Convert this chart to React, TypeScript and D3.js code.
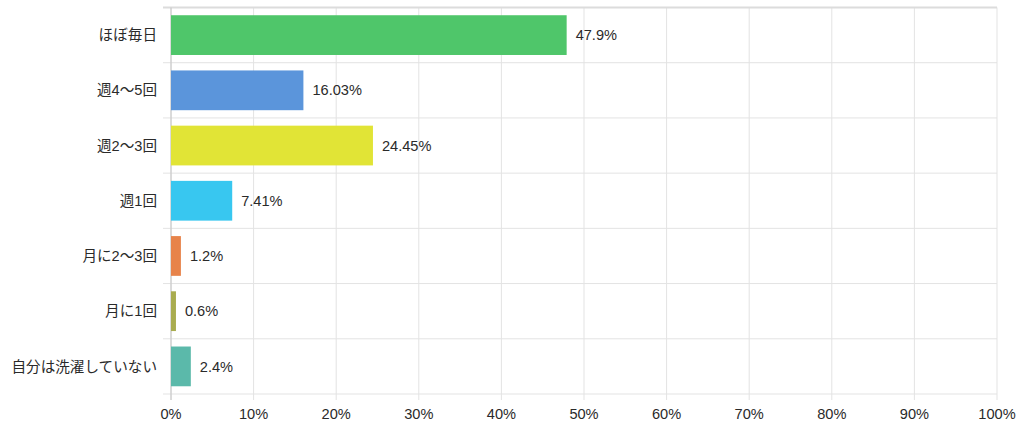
import React from "react";
import * as d3 from "d3";

const categories = ["ほぼ毎日", "週4～5回", "週2～3回", "週1回", "月に2～3回", "月に1回", "自分は洗濯していない"];
const values = [47.9, 16.03, 24.45, 7.41, 1.2, 0.6, 2.4];
const valueLabels = ["47.9%", "16.03%", "24.45%", "7.41%", "1.2%", "0.6%", "2.4%"];
const colors = ["#4fc66a", "#5b95db", "#e1e436", "#38c7f0", "#e7834a", "#a9ac4f", "#5bb9aa"];
const xTicks = [0, 10, 20, 30, 40, 50, 60, 70, 80, 90, 100];

const W = 1024;
const H = 431;
const left = 171;
const right = 997;
const top = 7.5;
const bottom = 394;
const font = "'Liberation Sans', Arial, 'Noto Sans CJK JP', sans-serif";
const fs = 14.6;

export default function App() {
  const x = d3.scaleLinear().domain([0, 100]).range([left, right]);
  const y = d3.scaleBand<string>().domain(categories).range([top, bottom]).paddingInner(0.28).paddingOuter(0.14);
  const bandEdges = d3.range(categories.length + 1).map((i) => top + i * ((bottom - top) / categories.length));
  return (
    <svg width={W} height={H} style={{ position: "absolute", left: 0, top: 0, background: "#fff" }}>
      {xTicks.map((t) => (
        <line key={"v" + t} x1={x(t)} x2={x(t)} y1={top} y2={bottom + 6} stroke="#e3e3e3" strokeWidth={1} />
      ))}
      {bandEdges.map((yy, i) => (
        <line key={"h" + i} x1={left - 8} x2={right} y1={yy} y2={yy} stroke={i === 0 ? "#dcdcdc" : "#e3e3e3"} strokeWidth={i === 0 ? 2 : 1} />
      ))}
      <line x1={left} x2={left} y1={top} y2={bottom + 6} stroke="#c4c4c4" strokeWidth={1} />
      {categories.map((c, i) => (
        <g key={c}>
          <rect x={x(0)} y={y(c)} width={x(values[i]) - x(0)} height={y.bandwidth()} fill={colors[i]} />
          <text x={x(values[i]) + 9} y={(y(c) as number) + y.bandwidth() / 2} dy="0.35em" fontSize={fs} fontFamily={font} fill="#2a2a2a">
            {valueLabels[i]}
          </text>
          <text x={157} y={(y(c) as number) + y.bandwidth() / 2} dy="0.35em" textAnchor="end" fontSize={fs} fontFamily={font} fill="#2a2a2a">
            {c}
          </text>
        </g>
      ))}
      {xTicks.map((t) => (
        <text key={"t" + t} x={x(t)} y={414} dy="0.35em" textAnchor="middle" fontSize={fs} fontFamily={font} fill="#2a2a2a">
          {t + "%"}
        </text>
      ))}
    </svg>
  );
}
